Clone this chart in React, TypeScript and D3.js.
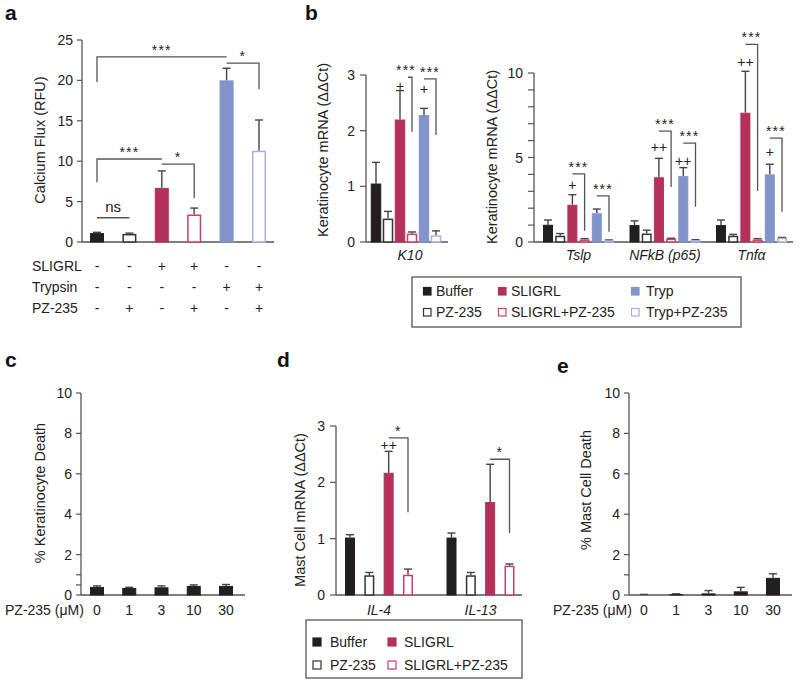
import React from 'react';
import * as d3 from 'd3';

const FONT = "'Liberation Sans', Arial, Helvetica, sans-serif";
const AXIS = '#555555';
const INK = '#222222';
const ERR = '#444444';

// ---------- shared series ----------
const seriesKeys = ['Buffer', 'PZ-235', 'SLIGRL', 'SLIGRL+PZ-235', 'Tryp', 'Tryp+PZ-235'];
const seriesFill = ['#231f20', '#ffffff', '#b3315a', '#ffffff', '#8393cb', '#ffffff'];
const seriesStroke = ['#231f20', '#333333', '#b3315a', '#c8406c', '#8393cb', '#a6b0de'];

// ---------- panel a ----------
const aCategories = ['Buffer', 'PZ-235', 'SLIGRL', 'SLIGRL+PZ-235', 'Trypsin', 'Trypsin+PZ-235'];
const aValues = [1.1, 1.0, 6.7, 3.4, 20.0, 11.3];
const aErrTop = [1.2, 1.1, 8.8, 4.2, 21.5, 15.1];
const aTicks = [0, 5, 10, 15, 20, 25];
const aRowLabels = ['SLIGRL', 'Trypsin', 'PZ-235'];
const aRowSigns = [
  ['-', '-', '+', '+', '-', '-'],
  ['-', '-', '-', '-', '+', '+'],
  ['-', '+', '-', '+', '-', '+'],
];
const aBrackets = [
  { from: 0, to: 1, y: 3.0, label: 'ns' },
  { from: 0, to: 2, y: 10.27, leg: 7.4, side: 'left', label: '***' },
  { from: 2, to: 3, y: 9.65, leg: 5.45, side: 'right', label: '*' },
  { from: 0, to: 4, y: 22.9, leg: 19.8, side: 'left', label: '***' },
  { from: 4, to: 5, y: 22.15, leg: 18.9, side: 'right', label: '*' },
];

// ---------- panel b (K10) ----------
const k10Values = [1.05, 0.42, 2.2, 0.15, 2.28, 0.12];
const k10ErrTop = [1.43, 0.55, 2.72, 0.18, 2.4, 0.2];
const k10Ticks = [0, 1, 2, 3];
const k10Brackets = [
  { from: 2, to: 3, y: 2.96, leg: 1.98, side: 'right', label: '***', inset: 8 },
  { from: 4, to: 5, y: 2.93, leg: 1.92, side: 'right', label: '***' },
];
const k10Marks = [
  { s: 2, y: 2.81, label: '+' },
  { s: 4, y: 2.74, label: '+' },
];

// ---------- panel b (others) ----------
const genes = ['Tslp', 'NFkB (p65)', 'Tnfα'];
const tslpValues = [1.02, 0.37, 2.2, 0.15, 1.7, 0.1];
const tslpErrTop = [1.3, 0.5, 2.8, 0.2, 1.95, 0.12];
const nfkbValues = [1.0, 0.5, 3.83, 0.2, 3.9, 0.12];
const nfkbErrTop = [1.25, 0.7, 4.95, 0.22, 4.4, 0.14];
const tnfaValues = [1.0, 0.37, 7.65, 0.15, 4.0, 0.25];
const tnfaErrTop = [1.3, 0.45, 10.1, 0.2, 4.6, 0.27];
const geneTicks = [0, 1, 2, 3, 4, 5, 6, 7, 8, 9, 10];
const geneTickLabels = [0, 5, 10];
const geneBrackets = [
  { g: 0, from: 2, to: 3, y: 4.03, leg: 0.67, label: '***' },
  { g: 0, from: 4, to: 5, y: 2.73, leg: 0.61, label: '***' },
  { g: 1, from: 2, to: 3, y: 6.56, leg: 3.26, label: '***' },
  { g: 1, from: 4, to: 5, y: 5.85, leg: 2.08, label: '***' },
  { g: 2, from: 2, to: 3, y: 11.69, leg: 3.02, label: '***' },
  { g: 2, from: 4, to: 5, y: 6.15, leg: 1.79, label: '***' },
];
const geneMarks = [
  { g: 0, s: 2, y: 3.38, label: '+' },
  { g: 1, s: 2, y: 5.62, label: '++' },
  { g: 1, s: 4, y: 4.79, label: '++' },
  { g: 2, s: 2, y: 10.63, label: '++' },
  { g: 2, s: 4, y: 5.32, label: '+' },
];

// ---------- panel c / e ----------
const doses = ['0', '1', '3', '10', '30'];
const cValues = [0.4, 0.35, 0.38, 0.45, 0.45];
const cErrTop = [0.45, 0.38, 0.45, 0.5, 0.52];
const cTicks = [0, 0.5, 1, 2, 4, 6, 8, 10];
const eValues = [0.02, 0.04, 0.08, 0.18, 0.85];
const eErrTop = [0.03, 0.06, 0.22, 0.38, 1.05];
const eTicks = [0, 1, 2, 4, 6, 8, 10];
const deathTickLabels = [0, 2, 4, 6, 8, 10];

// ---------- panel d ----------
const dGenes = ['IL-4', 'IL-13'];
const dSeries = ['Buffer', 'PZ-235', 'SLIGRL', 'SLIGRL+PZ-235'];
const il4Values = [1.02, 0.35, 2.17, 0.36];
const il4ErrTop = [1.07, 0.4, 2.55, 0.46];
const il13Values = [1.02, 0.35, 1.65, 0.52];
const il13ErrTop = [1.1, 0.4, 2.32, 0.55];
const dTicks = [0, 1, 2, 3];
const dBrackets = [
  { g: 0, from: 2, to: 3, y: 2.79, leg: 1.47, label: '*' },
  { g: 1, from: 2, to: 3, y: 2.41, leg: 1.1, label: '*' },
];
const dMarks = [{ g: 0, s: 2, y: 2.66, label: '++' }];

// ---------- helpers ----------
function BarWithErr({ cx, w, y0, y1, yErr, fill, stroke }) {
  const outlined = fill === '#ffffff';
  const sw = outlined ? 1.5 : 1;
  const top = Math.min(y0, y1);
  const h = Math.abs(y0 - y1);
  return (
    <g>
      <line x1={cx} x2={cx} y1={y1} y2={yErr} stroke={ERR} strokeWidth={1.4} />
      <line x1={cx - 4} x2={cx + 4} y1={yErr} y2={yErr} stroke={ERR} strokeWidth={1.4} />
      <rect
        x={cx - w / 2 + sw / 2}
        y={top + sw / 2}
        width={Math.max(0, w - sw)}
        height={Math.max(0, h - sw / 2)}
        fill={fill}
        stroke={stroke}
        strokeWidth={sw}
      />
    </g>
  );
}

function YAxis({ x, y, ticks, labels, x2, fontSize = 14, tickLen = 6, gap = 10 }) {
  const [d0, d1] = y.domain();
  return (
    <g>
      <line x1={x} x2={x} y1={y(d0)} y2={y(d1)} stroke={AXIS} strokeWidth={1.3} />
      <line x1={x} x2={x2} y1={y(d0)} y2={y(d0)} stroke={AXIS} strokeWidth={1.3} />
      {ticks.map((t) => (
        <line key={'t' + t} x1={x - tickLen} x2={x} y1={y(t)} y2={y(t)} stroke={AXIS} strokeWidth={1.2} />
      ))}
      {labels.map((t) => (
        <text key={'l' + t} x={x - gap} y={y(t) + 5} textAnchor="end" fontSize={fontSize} fill={INK}>
          {t}
        </text>
      ))}
    </g>
  );
}

function YTitle({ x, cy, text }) {
  return (
    <text transform={`translate(${x},${cy}) rotate(-90)`} textAnchor="middle" fontSize={14.5} fill={INK}>
      {text}
    </text>
  );
}

function BracketMark({ x1, x2, y, legY, side, label, labelX }) {
  let d;
  if (legY == null) d = `M${x1},${y}H${x2}`;
  else if (side === 'left') d = `M${x1},${legY}V${y}H${x2}`;
  else d = `M${x1},${y}H${x2}V${legY}`;
  const isNs = label === 'ns';
  return (
    <g>
      <path d={d} fill="none" stroke={AXIS} strokeWidth={1.3} />
      <text
        x={labelX != null ? labelX : (x1 + x2) / 2}
        y={isNs ? y - 6 : y - 2}
        textAnchor="middle"
        fontSize={isNs ? 15 : 14}
        letterSpacing={isNs ? 0 : 1.2}
        fill={INK}
      >
        {label}
      </text>
    </g>
  );
}

function PanelLabel({ x, y, t }) {
  return (
    <text x={x} y={y} fontSize={21} fontWeight="bold" fill="#111">
      {t}
    </text>
  );
}

export default function App() {
  // ----- panel a -----
  const ax = d3.scalePoint().domain(aCategories).range([97, 259]);
  const ay = d3.scaleLinear().domain([0, 25]).range([242, 40]);

  // ----- panel b left -----
  const kx = d3.scalePoint().domain(seriesKeys).range([376, 436]);
  const ky = d3.scaleLinear().domain([0, 3]).range([242, 75]);

  // ----- panel b right -----
  const gx = d3.scalePoint().domain(genes).range([578.5, 751.5]);
  const gInner = d3.scalePoint().domain(seriesKeys).range([-30.5, 30.5]);
  const gy = d3.scaleLinear().domain([0, 10]).range([242, 73]);
  const geneVals = [tslpValues, nfkbValues, tnfaValues];
  const geneErr = [tslpErrTop, nfkbErrTop, tnfaErrTop];
  const gPos = (g, s) => gx(genes[g]) + gInner(seriesKeys[s]);

  // ----- panel c -----
  const cx = d3.scalePoint().domain(doses).range([97, 226]);
  const cy = d3.scaleLinear().domain([0, 10]).range([595, 393]);

  // ----- panel d -----
  const dx = d3.scalePoint().domain(dGenes).range([379, 480.5]);
  const dInner = d3.scalePoint().domain(dSeries).range([-29, 29]);
  const dy = d3.scaleLinear().domain([0, 3]).range([595, 426]);
  const dVals = [il4Values, il13Values];
  const dErr = [il4ErrTop, il13ErrTop];
  const dPos = (g, s) => dx(dGenes[g]) + dInner(dSeries[s]);

  // ----- panel e -----
  const ex = d3.scalePoint().domain(doses).range([644, 773]);
  const ey = d3.scaleLinear().domain([0, 10]).range([595, 393]);

  const legendB = [0, 1, 2].map((c) => [0, 1].map((r) => c * 2 + r));
  const legendBSwX = [427, 502, 635];
  const legendBTxX = [436, 511, 646];
  const legendBRowY = [291, 312];
  const legendDSwX = [317, 392];
  const legendDTxX = [330, 404];
  const legendDRowY = [642, 665];

  return (
    <svg
      width={800}
      height={682}
      style={{ position: 'absolute', left: 0, top: 0, background: '#fff' }}
      fontFamily={FONT}
    >
      <rect x={0} y={0} width={800} height={682} fill="#fff" />

      {/* ================= panel a ================= */}
      <PanelLabel x={5} y={20} t="a" />
      <YAxis x={82} y={ay} ticks={aTicks} labels={aTicks} x2={274} tickLen={5} gap={9} />
      <YTitle x={45} cy={140} text="Calcium Flux (RFU)" />
      {aCategories.map((c, i) => (
        <BarWithErr
          key={c}
          cx={ax(c)}
          w={14}
          y0={ay(0)}
          y1={ay(aValues[i])}
          yErr={ay(aErrTop[i])}
          fill={seriesFill[i]}
          stroke={seriesStroke[i]}
        />
      ))}
      {aBrackets.map((b, i) => (
        <BracketMark
          key={i}
          x1={ax(aCategories[b.from])}
          x2={ax(aCategories[b.to])}
          y={ay(b.y)}
          legY={b.leg != null ? ay(b.leg) : null}
          side={b.side}
          label={b.label}
        />
      ))}
      {aRowLabels.map((lab, r) => (
        <g key={lab}>
          <text x={32} y={271 + r * 21} fontSize={14} fill={INK}>
            {lab}
          </text>
          {aRowSigns[r].map((s, i) => (
            <text key={i} x={ax(aCategories[i])} y={271 + r * 21} textAnchor="middle" fontSize={14} fill={INK}>
              {s}
            </text>
          ))}
        </g>
      ))}

      {/* ================= panel b ================= */}
      <PanelLabel x={305} y={20} t="b" />
      <YAxis x={366} y={ky} ticks={k10Ticks} labels={k10Ticks} x2={448} gap={11} />
      <YTitle x={328} cy={150} text="Keratinocyte mRNA (ΔΔCt)" />
      {seriesKeys.map((s, i) => (
        <BarWithErr
          key={s}
          cx={kx(s)}
          w={10.5}
          y0={ky(0)}
          y1={ky(k10Values[i])}
          yErr={ky(k10ErrTop[i])}
          fill={seriesFill[i]}
          stroke={seriesStroke[i]}
        />
      ))}
      {k10Brackets.map((b, i) => (
        <BracketMark
          key={i}
          x1={kx(seriesKeys[b.from]) + (b.inset || 0)}
          x2={kx(seriesKeys[b.to])}
          y={ky(b.y)}
          legY={ky(b.leg)}
          side={b.side}
          label={b.label}
          labelX={(kx(seriesKeys[b.from]) + kx(seriesKeys[b.to])) / 2}
        />
      ))}
      {k10Marks.map((m, i) => (
        <text key={i} x={kx(seriesKeys[m.s])} y={ky(m.y) + 5} textAnchor="middle" fontSize={14} fill={INK}>
          {m.label}
        </text>
      ))}
      <text x={410} y={260} textAnchor="middle" fontSize={14} fontStyle="italic" fill={INK}>
        K10
      </text>

      <YAxis x={534} y={gy} ticks={geneTicks} labels={geneTickLabels} x2={793} gap={11} />
      <YTitle x={497} cy={157} text="Keratinocyte mRNA (ΔΔCt)" />
      {genes.map((g, gi) =>
        seriesKeys.map((s, i) => (
          <BarWithErr
            key={g + s}
            cx={gPos(gi, i)}
            w={10}
            y0={gy(0)}
            y1={gy(geneVals[gi][i])}
            yErr={gy(geneErr[gi][i])}
            fill={seriesFill[i]}
            stroke={seriesStroke[i]}
          />
        ))
      )}
      {geneBrackets.map((b, i) => (
        <BracketMark
          key={i}
          x1={gPos(b.g, b.from)}
          x2={gPos(b.g, b.to)}
          y={gy(b.y)}
          legY={gy(b.leg)}
          side="right"
          label={b.label}
        />
      ))}
      {geneMarks.map((m, i) => (
        <text key={i} x={gPos(m.g, m.s)} y={gy(m.y) + 5} textAnchor="middle" fontSize={14} fill={INK}>
          {m.label}
        </text>
      ))}
      {genes.map((g) => (
        <text key={g} x={gx(g)} y={260} textAnchor="middle" fontSize={14} fontStyle="italic" fill={INK}>
          {g}
        </text>
      ))}

      {/* legend b */}
      <rect x={412} y={277} width={329} height={50} fill="none" stroke={AXIS} strokeWidth={1.3} />
      {legendB.map((col, c) =>
        col.map((si, r) => (
          <g key={si}>
            <rect
              x={legendBSwX[c] - 3.5}
              y={legendBRowY[r] - 3.5}
              width={7.5}
              height={7.5}
              fill={seriesFill[si]}
              stroke={seriesStroke[si]}
              strokeWidth={1.2}
            />
            <text x={legendBTxX[c]} y={legendBRowY[r] + 5} fontSize={14} fill={INK}>
              {seriesKeys[si]}
            </text>
          </g>
        ))
      )}

      {/* ================= panel c ================= */}
      <PanelLabel x={5} y={367} t="c" />
      <YAxis x={81} y={cy} ticks={cTicks} labels={deathTickLabels} x2={245} tickLen={5} gap={9} />
      <YTitle x={45} cy={493} text="% Keratinocyte Death" />
      {doses.map((d, i) => (
        <BarWithErr
          key={d}
          cx={cx(d)}
          w={14}
          y0={cy(0)}
          y1={cy(cValues[i])}
          yErr={cy(cErrTop[i])}
          fill={seriesFill[0]}
          stroke={seriesStroke[0]}
        />
      ))}
      <text x={5} y={615} fontSize={14} fill={INK}>
        PZ-235 (μM)
      </text>
      {doses.map((d) => (
        <text key={d} x={cx(d)} y={615} textAnchor="middle" fontSize={14} fill={INK}>
          {d}
        </text>
      ))}

      {/* ================= panel d ================= */}
      <PanelLabel x={277} y={367} t="d" />
      <YAxis x={336} y={dy} ticks={dTicks} labels={dTicks} x2={522} gap={11} />
      <YTitle x={305} cy={510} text="Mast Cell mRNA (ΔΔCt)" />
      {dGenes.map((g, gi) =>
        dSeries.map((s, i) => (
          <BarWithErr
            key={g + s}
            cx={dPos(gi, i)}
            w={10}
            y0={dy(0)}
            y1={dy(dVals[gi][i])}
            yErr={dy(dErr[gi][i])}
            fill={seriesFill[i]}
            stroke={seriesStroke[i]}
          />
        ))
      )}
      {dBrackets.map((b, i) => (
        <BracketMark
          key={i}
          x1={dPos(b.g, b.from)}
          x2={dPos(b.g, b.to)}
          y={dy(b.y)}
          legY={dy(b.leg)}
          side="right"
          label={b.label}
        />
      ))}
      {dMarks.map((m, i) => (
        <text key={i} x={dPos(m.g, m.s)} y={dy(m.y) + 5} textAnchor="middle" fontSize={14} fill={INK}>
          {m.label}
        </text>
      ))}
      {dGenes.map((g) => (
        <text key={g} x={dx(g)} y={615} textAnchor="middle" fontSize={14} fontStyle="italic" fill={INK}>
          {g}
        </text>
      ))}
      {/* legend d */}
      <rect x={306} y={620} width={216} height={58} fill="none" stroke={AXIS} strokeWidth={1.3} />
      {[0, 1].map((c) =>
        [0, 1].map((r) => {
          const si = c * 2 + r;
          return (
            <g key={si}>
              <rect
                x={legendDSwX[c] - 4}
                y={legendDRowY[r] - 4}
                width={8}
                height={8}
                fill={seriesFill[si]}
                stroke={seriesStroke[si]}
                strokeWidth={1.2}
              />
              <text x={legendDTxX[c]} y={legendDRowY[r] + 5} fontSize={14} fill={INK}>
                {dSeries[si]}
              </text>
            </g>
          );
        })
      )}

      {/* ================= panel e ================= */}
      <PanelLabel x={557} y={373} t="e" />
      <YAxis x={629} y={ey} ticks={eTicks} labels={deathTickLabels} x2={792} tickLen={5} gap={9} />
      <YTitle x={591} cy={490} text="% Mast Cell Death" />
      {doses.map((d, i) => (
        <BarWithErr
          key={d}
          cx={ex(d)}
          w={14}
          y0={ey(0)}
          y1={ey(eValues[i])}
          yErr={ey(eErrTop[i])}
          fill={seriesFill[0]}
          stroke={seriesStroke[0]}
        />
      ))}
      <text x={553} y={615} fontSize={14} fill={INK}>
        PZ-235 (μM)
      </text>
      {doses.map((d) => (
        <text key={d} x={ex(d)} y={615} textAnchor="middle" fontSize={14} fill={INK}>
          {d}
        </text>
      ))}
    </svg>
  );
}
